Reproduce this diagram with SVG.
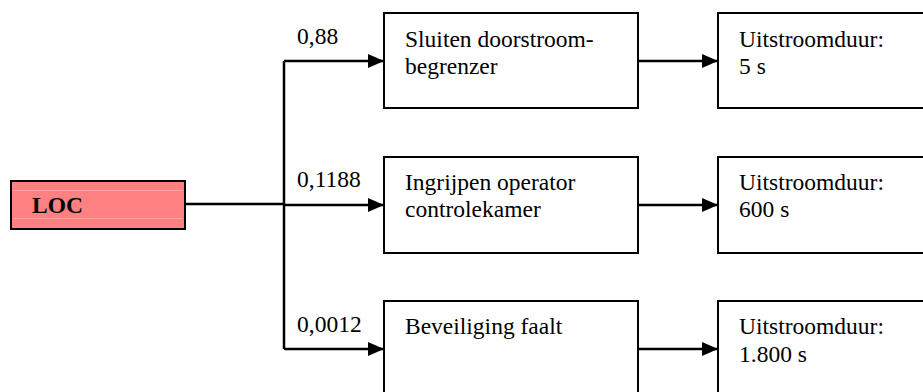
<svg xmlns="http://www.w3.org/2000/svg" width="923" height="392" viewBox="0 0 923 392">
<defs>
<style>
.box{fill:#fff;stroke:#000;stroke-width:2}
.loc{fill:#ff8080;stroke:#000;stroke-width:2}
.hl{stroke:#ffa6a6;stroke-width:1}
.t{font-family:'Liberation Serif','Times New Roman',serif;font-size:23.5px;fill:#000}
.b{font-weight:bold}
.c{fill:none;stroke:#000;stroke-width:2.5}
</style>
<marker id="ah" markerUnits="userSpaceOnUse" markerWidth="16" markerHeight="14" refX="16" refY="7" orient="auto">
<path d="M0,0 L16,7 L0,14 z" fill="#000"/>
</marker>
</defs>
<rect width="923" height="392" fill="#fff"/>
<g id="connectors">
<path class="c" d="M185,204 H284"/>
<path class="c" d="M284,61 V349"/>
<path class="c" d="M284,61 H384" marker-end="url(#ah)"/>
<path class="c" d="M284,205 H384" marker-end="url(#ah)"/>
<path class="c" d="M284,349 H384" marker-end="url(#ah)"/>
<path class="c" d="M638,61 H718" marker-end="url(#ah)"/>
<path class="c" d="M638,205 H718" marker-end="url(#ah)"/>
<path class="c" d="M638,349 H718" marker-end="url(#ah)"/>
<text class="t" x="297" y="44">0,88</text>
<text class="t" x="297" y="187">0,1188</text>
<text class="t" x="297" y="332">0,0012</text>
</g>
<g id="loc">
<rect class="loc" x="11" y="181" width="174" height="48"/>
<path class="hl" d="M13,190.5 H183 M13,218.5 H183"/>
<text class="t b" x="32" y="213">LOC</text>
</g>
<g id="n1">
<rect class="box" x="384" y="13" width="254" height="95"/>
<text class="t" x="405" y="47">Sluiten doorstroom-</text>
<text class="t" x="405" y="74">begrenzer</text>
</g>
<g id="n2">
<rect class="box" x="384" y="157" width="254" height="96"/>
<text class="t" x="405" y="190">Ingrijpen operator</text>
<text class="t" x="405" y="217">controlekamer</text>
</g>
<g id="n3">
<rect class="box" x="384" y="301" width="254" height="100"/>
<text class="t" x="405" y="334">Beveiliging faalt</text>
</g>
<g id="r1">
<rect class="box" x="718" y="13" width="220" height="95"/>
<text class="t" x="739" y="47">Uitstroomduur:</text>
<text class="t" x="739" y="74">5 s</text>
</g>
<g id="r2">
<rect class="box" x="718" y="157" width="220" height="96"/>
<text class="t" x="739" y="190">Uitstroomduur:</text>
<text class="t" x="739" y="217">600 s</text>
</g>
<g id="r3">
<rect class="box" x="718" y="301" width="220" height="100"/>
<text class="t" x="739" y="334">Uitstroomduur:</text>
<text class="t" x="739" y="362">1.800 s</text>
</g>
</svg>
